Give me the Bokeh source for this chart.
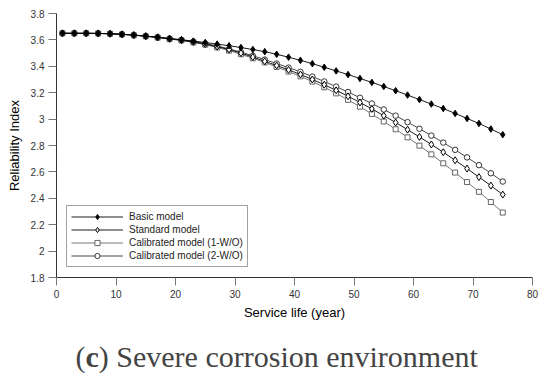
from bokeh.plotting import figure
from bokeh.models import Range1d, FixedTicker, Legend, LegendItem, Label, CustomJSTickFormatter
from bokeh.embed import file_html
from bokeh.resources import INLINE

years = [1, 3, 5, 7, 9, 11, 13, 15, 17, 19, 21, 23, 25, 27, 29, 31, 33, 35, 37, 39,
         41, 43, 45, 47, 49, 51, 53, 55, 57, 59, 61, 63, 65, 67, 69, 71, 73, 75]

basic = [3.650, 3.650, 3.650, 3.649, 3.647, 3.643, 3.637, 3.629, 3.621, 3.611,
         3.601, 3.591, 3.580, 3.568, 3.556, 3.542, 3.527, 3.511, 3.491, 3.469,
         3.445, 3.420, 3.393, 3.365, 3.337, 3.308, 3.278, 3.247, 3.215, 3.182,
         3.148, 3.114, 3.080, 3.043, 3.005, 2.967, 2.925, 2.882]

standard = [3.650, 3.650, 3.650, 3.649, 3.646, 3.642, 3.636, 3.628, 3.619, 3.608,
            3.598, 3.584, 3.568, 3.549, 3.527, 3.500, 3.470, 3.438, 3.406, 3.373,
            3.338, 3.300, 3.260, 3.218, 3.173, 3.126, 3.077, 3.026, 2.974, 2.920,
            2.865, 2.808, 2.749, 2.688, 2.625, 2.561, 2.496, 2.428]

cal1 = [3.650, 3.650, 3.650, 3.649, 3.646, 3.641, 3.635, 3.627, 3.617, 3.606,
        3.596, 3.581, 3.564, 3.543, 3.519, 3.491, 3.461, 3.429, 3.395, 3.360,
        3.324, 3.284, 3.241, 3.195, 3.146, 3.094, 3.039, 2.982, 2.923, 2.862,
        2.799, 2.733, 2.665, 2.595, 2.523, 2.449, 2.372, 2.292]

cal2 = [3.650, 3.650, 3.650, 3.649, 3.647, 3.643, 3.637, 3.629, 3.620, 3.610,
        3.600, 3.587, 3.572, 3.554, 3.532, 3.507, 3.480, 3.451, 3.421, 3.390,
        3.358, 3.322, 3.285, 3.246, 3.205, 3.162, 3.118, 3.073, 3.026, 2.977,
        2.927, 2.875, 2.822, 2.767, 2.710, 2.651, 2.590, 2.527]

series_names = ["Basic model", "Standard model", "Calibrated model (1-W/O)", "Calibrated model (2-W/O)"]
x_ticks = [0, 10, 20, 30, 40, 50, 60, 70, 80]
y_ticks = [1.8, 2.0, 2.2, 2.4, 2.6, 2.8, 3.0, 3.2, 3.4, 3.6, 3.8]
x_min, x_max = 0, 80
y_min, y_max = 1.8, 3.8

FONT = "Liberation Sans"
W, H = 540, 373
# layout (pixels inside the canvas)
AX_LEFT, AX_TOP = 56, 13
X_PX, Y_PX = 476, 264       # pixel extent of 0..80 and 1.8..3.8
xs = (x_max - x_min) / X_PX
ys = (y_max - y_min) / Y_PX
x_range = Range1d(x_min - AX_LEFT * xs, x_min + (W - AX_LEFT) * xs)
y_range = Range1d(y_max - (H - AX_TOP) * ys, y_max + AX_TOP * ys)

p = figure(width=W, height=H, output_backend="svg", toolbar_location=None,
           x_range=x_range, y_range=y_range,
           min_border_left=0, min_border_right=0, min_border_top=0, min_border_bottom=0)
p.outline_line_color = None
p.xgrid.visible = False
p.ygrid.visible = False

for ax in (p.xaxis[0], p.yaxis[0]):
    ax.axis_line_color = "#333333"
    ax.major_tick_line_color = "#777777"
    ax.minor_tick_line_color = None
    ax.major_tick_in = 0
    ax.major_tick_out = 8
    ax.major_label_text_font = FONT
    ax.major_label_text_font_size = "10px"
    ax.major_label_text_color = "#333333"
    ax.major_label_standoff = 4
    ax.axis_label_text_font = FONT
    ax.axis_label_text_font_size = "13px"
    ax.axis_label_text_font_style = "normal"
    ax.axis_label_text_color = "#000000"

p.xaxis.ticker = FixedTicker(ticks=x_ticks)
p.yaxis.ticker = FixedTicker(ticks=y_ticks)
p.xaxis.bounds = (x_min, x_max)
p.yaxis.bounds = (y_min, y_max)
p.xaxis.fixed_location = y_min
p.yaxis.fixed_location = x_min
p.yaxis.formatter = CustomJSTickFormatter(code="return tick.toFixed(1).replace(/\\.0$/, '');")
p.xaxis.axis_label = "Service life (year)"
p.yaxis.axis_label = "Reliability Index"
p.xaxis.axis_label_standoff = 4
p.yaxis.axis_label_standoff = 6

specs = [
    (cal1, "#666666", "square", 5, "white"),
    (cal2, "#333333", "circle", 5.5, "white"),
    (standard, "#000000", "diamond", 7, "white"),
    (basic, "#000000", "diamond", 6.5, "#000000"),
]
renderers = {}
for vals, col, mk, sz, fill in specs:
    ln = p.line(years, vals, line_color=col, line_width=0.9)
    sc = p.scatter(years, vals, marker=mk, size=sz, line_color=col, fill_color=fill, line_width=1)
    renderers[id(vals)] = [ln, sc]

items = [
    LegendItem(label=series_names[0], renderers=renderers[id(basic)]),
    LegendItem(label=series_names[1], renderers=renderers[id(standard)]),
    LegendItem(label=series_names[2], renderers=renderers[id(cal1)]),
    LegendItem(label=series_names[3], renderers=renderers[id(cal2)]),
]
below_px = H - AX_TOP - Y_PX
legend = Legend(items=items, location=(AX_LEFT + 10, below_px + 10), margin=0, padding=4, spacing=0,
                glyph_width=52, glyph_height=13, label_height=13, label_standoff=6,
                label_text_font=FONT, label_text_font_size="10px", label_text_color="#222222",
                border_line_color="#444444", border_line_width=1, background_fill_alpha=1)
p.add_layout(legend)

cap_font = "Liberation Serif"
cap_size = "30px"
cap_y = 17
p.add_layout(Label(x=75, y=cap_y, x_units="screen", y_units="screen", text="(",
                   text_font=cap_font, text_font_size=cap_size, text_baseline="alphabetic"))
p.add_layout(Label(x=85, y=cap_y, x_units="screen", y_units="screen", text="c",
                   text_font=cap_font, text_font_size=cap_size, text_font_style="bold",
                   text_baseline="alphabetic"))
p.add_layout(Label(x=98.3, y=cap_y, x_units="screen", y_units="screen",
                   text=") Severe corrosion environment",
                   text_font=cap_font, text_font_size=cap_size, text_baseline="alphabetic"))

open("out.html", "w").write(file_html(p, INLINE))
